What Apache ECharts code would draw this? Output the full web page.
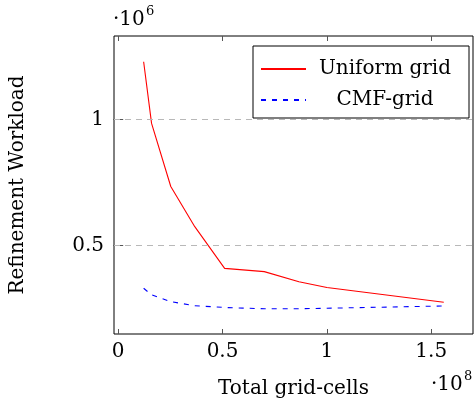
<!DOCTYPE html>
<html>
<head>
<meta charset="utf-8">
<script src="https://cdn.jsdelivr.net/npm/echarts@6/dist/echarts.min.js"></script>
<style>
  html, body { margin: 0; padding: 0; background: #fff; }
  #chart { width: 474px; height: 404px; }
</style>
</head>
<body>
<div id="chart"></div>
<script>
// x in units of 1e8 grid-cells, y in units of 1e6
const cells = [0.122, 0.16, 0.252, 0.367, 0.51, 0.70, 0.866, 1.0, 1.56];
const uniform = [1.228, 0.984, 0.734, 0.575, 0.410, 0.397, 0.357, 0.334, 0.276];
const cmf = [0.331, 0.305, 0.278, 0.262, 0.255, 0.250, 0.250, 0.252, 0.261];
const xTicks = [0, 0.5, 1, 1.5];
const yTicks = [0.5, 1];

const font = 'DejaVu Serif';
const fs = 20;
const chart = echarts.init(document.getElementById('chart'));

const pairs = (xs, ys) => xs.map((x, i) => [x, ys[i]]);
const fmt = v => String(v);

chart.setOption({
  animation: false,
  textStyle: { fontFamily: font },
  grid: {
    left: 111, right: 1, top: 36, bottom: 70,
    show: true, borderColor: '#000', borderWidth: 1
  },
  xAxis: [
    {
      type: 'value', min: -0.02, max: 1.7,
      axisLine: { show: false },
      axisTick: { inside: true, length: 5, lineStyle: { color: '#555' }, customValues: xTicks },
      axisLabel: { customValues: xTicks, formatter: fmt, fontSize: fs, color: '#000', margin: 8, fontFamily: font },
      splitLine: { show: false },
      name: 'Total grid-cells', nameLocation: 'middle', nameGap: 45,
      nameTextStyle: { fontSize: fs, color: '#000', fontFamily: font }
    },
    {
      type: 'value', position: 'top', min: -0.02, max: 1.7,
      axisLine: { show: false },
      axisTick: { inside: true, length: 5, lineStyle: { color: '#555' }, customValues: xTicks },
      axisLabel: { show: false },
      splitLine: { show: false }
    }
  ],
  yAxis: [
    {
      type: 'value', min: 0.15, max: 1.33,
      axisLine: { show: false },
      axisTick: { inside: true, length: 5, lineStyle: { color: '#555' }, customValues: yTicks },
      axisLabel: { customValues: yTicks, formatter: fmt, fontSize: fs, color: '#000', margin: 10, fontFamily: font },
      splitLine: { show: false },
      name: 'Refinement Workload', nameLocation: 'middle', nameGap: 86, nameRotate: 90,
      nameTextStyle: { fontSize: fs, color: '#000', fontFamily: font }
    },
    {
      type: 'value', position: 'right', min: 0.15, max: 1.33,
      axisLine: { show: false },
      axisTick: { inside: true, length: 5, lineStyle: { color: '#555' }, customValues: yTicks },
      axisLabel: { show: false },
      splitLine: { show: false }
    }
  ],
  legend: {
    orient: 'vertical',
    left: 253, top: 46,
    width: 210,
    padding: [13, 10, 8, 7],
    itemGap: 11,
    itemWidth: 45, itemHeight: 14,
    borderColor: '#000', borderWidth: 1, borderRadius: 0,
    backgroundColor: '#fff',
    itemStyle: { opacity: 0 },
    formatter: '{a|{name}}',
    textStyle: {
      fontFamily: font, fontSize: fs, color: '#000',
      rich: { a: { width: 148, align: 'center', fontSize: fs, fontFamily: font, lineHeight: 24 } }
    },
    data: ['Uniform grid', 'CMF-grid']
  },
  series: [
    {
      name: 'Uniform grid', type: 'line', symbol: 'none', z: 3,
      data: pairs(cells, uniform),
      itemStyle: { color: '#ff0000' },
      lineStyle: { color: '#ff0000', width: 1.1 },
      markLine: {
        silent: true, symbol: 'none', label: { show: false },
        lineStyle: { color: '#b8b8b8', type: [6, 5], width: 1 },
        data: yTicks.map(v => ({ yAxis: v }))
      }
    },
    {
      name: 'CMF-grid', type: 'line', symbol: 'none', z: 3,
      data: pairs(cells, cmf),
      itemStyle: { color: '#0000ff' },
      lineStyle: { color: '#0000ff', width: 1.1, type: [5, 6] }
    }
  ],
  graphic: [
    { type: 'text', left: 113, top: 10, style: { text: '·10', font: fs + 'px "DejaVu Serif"', fill: '#000' } },
    { type: 'text', left: 146, top: 5, style: { text: '6', font: '13px "DejaVu Serif"', fill: '#000' } },
    { type: 'text', left: 431, top: 375, style: { text: '·10', font: fs + 'px "DejaVu Serif"', fill: '#000' } },
    { type: 'text', left: 464, top: 370, style: { text: '8', font: '13px "DejaVu Serif"', fill: '#000' } }
  ]
});
</script>
</body>
</html>
